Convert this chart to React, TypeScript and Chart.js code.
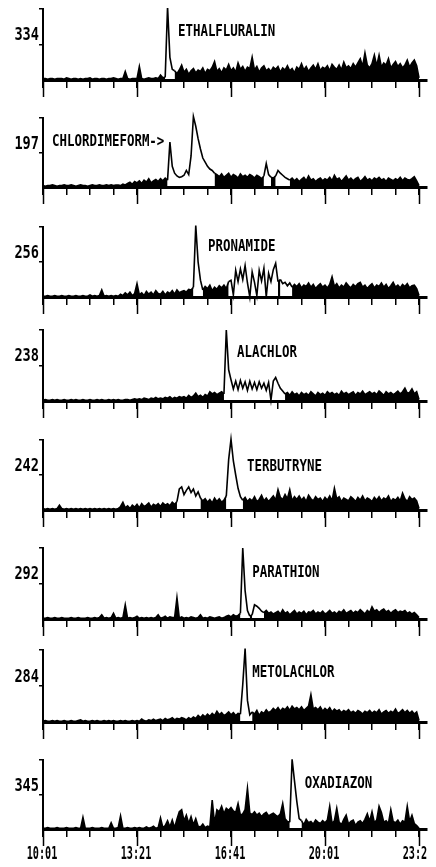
import React, { useEffect, useRef } from 'react';
import { Chart, registerables } from 'chart.js';

Chart.register(...registerables);

// ---- time axis (seconds; 601 s = 10:01) ----
const START = 601;
const STEP = 5; // scan interval, seconds
const X_MAX = 1418;
const X_TICKS = [601, 651, 701, 751, 801, 851, 901, 951, 1001, 1051, 1101, 1151, 1201, 1251, 1301, 1351, 1401];
const X_MAJOR = [601, 801, 1001, 1201, 1401];
const X_LABELS = ['10:01', '13:21', '16:41', '20:01', '23:21'];

// ---- panel labels ----
const MZ = ['334', '197', '256', '238', '242', '292', '284', '345'];
const COMPOUNDS = ['ETHALFLURALIN', 'CHLORDIMEFORM->', 'PRONAMIDE', 'ALACHLOR', 'TERBUTRYNE', 'PARATHION', 'METOLACHLOR', 'OXADIAZON'];
const LABEL_T = [888, 620, 952, 1014, 1035, 1046, 1046, 1158];
const LABEL_Y = [68, 65, 71, 68, 61, 65, 68, 65];

// ---- ion traces (% of full scale), one value per scan ----
const ion334 = [
  2, 2, 1, 2, 2, 1, 2, 2, 2, 1,
  3, 2, 1, 2, 2, 1, 2, 1, 2, 2,
  3, 1, 2, 2, 1, 2, 2, 1, 2, 2,
  3, 2, 1, 2, 2, 12, 2, 1, 2, 2,
  2, 19, 2, 1, 2, 3, 2, 2, 3, 2,
  7, 3, 4, 103, 32, 15, 13, 9, 14, 21,
  11, 15, 8, 13, 16, 10, 14, 12, 17, 9,
  15, 13, 18, 26, 12, 16, 10, 17, 14, 22,
  13, 17, 11, 24, 15, 19, 12, 18, 16, 32,
  14, 19, 11, 17, 20, 13, 16, 12, 18, 15,
  19, 11, 17, 14, 20, 13, 16, 10, 18, 15,
  23, 14, 19, 12, 17, 21, 15, 23, 13, 18,
  16, 20, 13, 22, 18, 15, 21, 14, 25, 17,
  20, 16, 23, 18, 24, 30, 19, 38, 21, 17,
  23, 35, 20, 35, 18, 24, 21, 30, 17, 22,
  26, 19, 23, 17, 21, 28, 18, 24, 28, 20,
  3,
];
const ion197 = [
  2, 1, 2, 2, 3, 2, 1, 2, 2, 3,
  2, 2, 3, 2, 1, 2, 3, 2, 2, 1,
  2, 3, 2, 2, 3, 2, 2, 3, 2, 3,
  2, 3, 3, 2, 4, 3, 5, 7, 4, 8,
  6, 9, 5, 10, 7, 12, 6, 9, 11, 8,
  12, 9, 13, 10, 65, 30, 20, 16, 14, 15,
  17, 24, 18, 45, 102, 88, 70, 55, 42, 36,
  30, 26, 24, 20, 18, 15, 19, 14, 17, 20,
  14, 18, 16, 13, 19, 15, 17, 14, 18, 16,
  13, 17, 15, 12, 16, 34, 18, 14, 13, 16,
  24, 20, 17, 14, 12, 10, 13, 9, 12, 8,
  11, 14, 9, 16, 10, 12, 8, 11, 13, 9,
  12, 10, 14, 9, 17, 11, 13, 8, 12, 16,
  10, 13, 9, 12, 14, 8, 11, 15, 10, 12,
  9, 13, 11, 14, 10, 12, 8, 13, 11, 9,
  12, 10, 14, 9, 13, 11, 10, 12, 15, 9,
  2,
];
const ion256 = [
  1, 1, 2, 1, 1, 2, 1, 1, 2, 1,
  1, 2, 1, 1, 2, 1, 1, 2, 1, 1,
  3, 1, 2, 1, 2, 10, 1, 2, 1, 2,
  1, 2, 1, 4, 2, 6, 3, 7, 2, 5,
  19, 3, 6, 2, 8, 4, 7, 3, 9, 5,
  4, 8, 3, 7, 5, 9, 4, 10, 6, 8,
  9, 7, 11, 10, 14, 102, 50, 24, 10, 15,
  12, 17, 9, 14, 11, 16, 13, 17, 12, 22,
  24, 3, 38, 22, 40, 25, 45, 20, 0, 36,
  21, 2, 38, 23, 41, 0, 34, 22, 39, 48,
  22, 25, 19, 21, 16, 20, 14, 18, 15, 19,
  13, 17, 15, 20, 14, 18, 12, 16, 19, 14,
  17, 13, 18, 29, 15, 19, 13, 17, 14, 20,
  16, 13, 18, 15, 19, 21, 14, 17, 12, 16,
  19, 13, 17, 15, 20, 14, 18, 12, 16, 21,
  14, 17, 13, 18, 15, 19, 13, 16, 17, 12,
  2,
];
const ion238 = [
  1, 2, 1, 1, 2, 1, 2, 1, 1, 2,
  1, 1, 2, 1, 2, 1, 1, 2, 1, 1,
  2, 1, 1, 2, 1, 2, 1, 1, 2, 1,
  2, 1, 2, 1, 1, 2, 2, 1, 2, 3,
  2, 3, 2, 4, 3, 2, 4, 3, 5, 3,
  4, 3, 5, 4, 6, 3, 5, 4, 6, 5,
  6, 4, 8, 5, 7, 11, 6, 8, 5, 9,
  7, 13, 10, 12, 9, 11, 13, 10, 100, 44,
  30, 17, 28, 16, 29, 18, 27, 15, 28, 17,
  26, 16, 27, 18, 25, 15, 26, 1, 28, 33,
  25, 18, 14, 10, 12, 8, 13, 9, 11, 7,
  12, 9, 11, 8, 13, 10, 7, 12, 9, 11,
  8, 13, 10, 12, 9, 11, 8, 14, 10, 12,
  9, 11, 13, 8, 12, 10, 14, 9, 11, 13,
  10, 12, 9, 14, 11, 8, 13, 10, 12, 9,
  11, 14, 10, 13, 18, 11, 12, 17, 10, 13,
  2,
];
const ion242 = [
  2, 1, 2, 1, 2, 1, 2, 7, 2, 1,
  2, 1, 2, 1, 2, 1, 2, 1, 2, 1,
  2, 1, 2, 1, 2, 1, 2, 1, 2, 1,
  2, 1, 2, 5, 11, 3, 6, 2, 7, 4,
  8, 3, 9, 5, 7, 10, 4, 8, 6, 9,
  5, 10, 7, 9, 6, 11, 8, 12, 30, 33,
  22, 28, 33, 25, 30, 20, 26, 17, 13, 16,
  11, 15, 10, 17, 12, 16, 11, 14, 20, 72,
  101, 70, 50, 31, 19, 14, 18, 12, 16, 13,
  19, 12, 15, 21, 13, 17, 12, 16, 20, 14,
  29, 18, 15, 22, 16, 29, 13, 19, 15, 20,
  14, 18, 12, 21, 16, 13, 19, 15, 17, 12,
  18, 14, 20, 13, 31, 16, 19, 12, 17, 15,
  13, 19, 16, 12, 18, 14, 20, 13, 17, 15,
  12, 18, 14, 19, 13, 17, 15, 20, 12, 16,
  14, 18, 13, 24, 16, 12, 19, 15, 17, 13,
  2,
];
const ion292 = [
  1, 1, 2, 1, 1, 2, 1, 1, 2, 1,
  1, 1, 2, 1, 1, 2, 1, 1, 1, 2,
  1, 1, 2, 1, 2, 6, 1, 2, 1, 2,
  8, 1, 2, 1, 2, 20, 1, 2, 1, 2,
  4, 1, 2, 1, 2, 1, 2, 1, 2, 6,
  1, 2, 4, 1, 3, 2, 2, 30, 1, 3,
  1, 2, 1, 3, 2, 1, 2, 6, 1, 2,
  1, 3, 2, 1, 2, 3, 1, 2, 4, 5,
  3, 6, 4, 5, 8, 100, 40, 12, 4, 6,
  20, 18, 15, 11, 9, 12, 8, 10, 7, 9,
  11, 7, 13, 8, 10, 6, 9, 12, 7, 10,
  8, 11, 6, 10, 9, 12, 7, 10, 8, 11,
  7, 9, 12, 8, 10, 7, 11, 9, 13, 8,
  10, 12, 8, 11, 9, 13, 10, 7, 12, 9,
  17, 11, 13, 9, 12, 14, 10, 12, 8, 11,
  13, 9, 11, 10, 12, 8, 10, 7, 9, 6,
  2,
];
const ion284 = [
  1, 2, 1, 1, 2, 1, 2, 1, 1, 2,
  1, 1, 2, 1, 1, 2, 3, 1, 2, 1,
  1, 2, 1, 2, 1, 1, 2, 1, 2, 1,
  2, 1, 1, 2, 1, 2, 1, 1, 2, 1,
  2, 1, 4, 2, 1, 3, 2, 4, 2, 3,
  4, 2, 5, 3, 4, 6, 3, 5, 4, 6,
  5, 3, 6, 4, 7, 5, 9, 6, 10, 7,
  11, 8, 12, 9, 15, 10, 13, 9, 11, 14,
  10, 13, 9, 12, 11, 52, 102, 30, 10, 14,
  11, 16, 9, 14, 12, 17, 13, 15, 19, 16,
  20, 15, 19, 17, 21, 16, 22, 18, 20, 17,
  21, 16, 19, 22, 38, 18, 20, 17, 21, 15,
  19, 16, 20, 14, 18, 15, 17, 13, 16, 14,
  17, 13, 15, 12, 16, 14, 11, 15, 13, 16,
  12, 15, 13, 17, 11, 14, 16, 12, 15, 13,
  18, 12, 14, 17, 13, 16, 12, 15, 11, 14,
  2,
];
const ion345 = [
  1, 1, 2, 1, 1, 1, 2, 1, 1, 1,
  2, 1, 1, 1, 2, 1, 1, 17, 1, 1,
  1, 2, 1, 1, 1, 2, 1, 1, 1, 9,
  1, 1, 2, 19, 1, 1, 2, 1, 1, 2,
  1, 2, 1, 1, 3, 1, 2, 4, 1, 2,
  16, 2, 5, 12, 3, 13, 2, 14, 25, 28,
  12, 20, 8, 18, 6, 15, 4, 3, 7, 2,
  4, 3, 42, 8, 28, 25, 33, 22, 30, 27,
  31, 26, 24, 37, 20, 22, 28, 59, 23, 21,
  25, 20, 23, 18, 22, 24, 19, 21, 23, 20,
  18, 22, 37, 15, 11, 10, 101, 70, 40, 15,
  12, 6, 14, 9, 11, 7, 13, 10, 8, 12,
  9, 13, 33, 8, 12, 30, 10, 6, 14, 20,
  7, 11, 13, 5, 10, 12, 8, 14, 22, 11,
  25, 9, 13, 33, 24, 10, 12, 8, 28, 11,
  9, 13, 7, 12, 10, 33, 11, 20, 8, 5,
  1,
];

const TRACES = [ion334, ion197, ion256, ion238, ion242, ion292, ion284, ion345];

// scan ranges where the trace rides above the baseline (hollow underneath)
const HOLLOW = [
  [[52, 56]],
  [[53, 73], [94, 97], [99, 105]],
  [[64, 68], [79, 100], [101, 106]],
  [[77, 103]],
  [[57, 67], [78, 85]],
  [[84, 88], [89, 94]],
  [[84, 89]],
  [[105, 110]],
];

// ---- layout (page pixels) ----
const PANEL_TOP = [9, 118, 227, 330, 440, 548, 650, 760];
const PANEL_BASE = [80, 187, 297, 401, 510, 619, 722, 829];
const PAD_TOP = 8;
const CANVAS_W = 428;
const Y_AXIS_W = 35;

const MONO = '"DejaVu Sans Mono", "Liberation Mono", monospace';

function drawScaled(ctx: CanvasRenderingContext2D, text: string, x: number, y: number, font: string, sx: number, align: string, baseline: CanvasTextBaseline) {
  ctx.save();
  ctx.font = font;
  ctx.fillStyle = '#000';
  ctx.textBaseline = baseline;
  ctx.textAlign = 'left';
  const w = ctx.measureText(text).width * sx;
  const left = align === 'right' ? x - w : align === 'center' ? x - w / 2 : x;
  ctx.translate(left, y);
  ctx.scale(sx, 1);
  ctx.fillText(text, 0, 0);
  ctx.restore();
}

const panelText = {
  id: 'panelText',
  afterDraw(chart: any, _args: any, opts: any) {
    const { ctx, chartArea } = chart;
    const xs = chart.scales.x;
    const ys = chart.scales.y;
    ctx.save();
    ctx.strokeStyle = '#000';
    ctx.lineWidth = 1.5;
    for (const v of X_MAJOR) {
      const px = Math.round(xs.getPixelForValue(v)) + 0.5;
      ctx.beginPath();
      ctx.moveTo(px, chartArea.bottom);
      ctx.lineTo(px, chartArea.bottom + 17);
      ctx.stroke();
    }
    ctx.restore();
    drawScaled(ctx, opts.mz, chartArea.left - 4, ys.getPixelForValue(62), `bold 17px ${MONO}`, 0.8, 'right', 'middle');
    drawScaled(ctx, opts.name, xs.getPixelForValue(opts.t), ys.getPixelForValue(opts.y), `bold 15px ${MONO}`, 0.83, 'left', 'middle');
    if (opts.last) {
      X_MAJOR.forEach((v, k) => {
        drawScaled(ctx, X_LABELS[k], xs.getPixelForValue(v) - 1, chartArea.bottom + 17, `bold 17px ${MONO}`, 0.6, 'center', 'top');
      });
    }
  },
};

function Panel({ k }: { k: number }) {
  const ref = useRef<HTMLCanvasElement>(null);
  const last = k === TRACES.length - 1;
  const xAxisH = last ? 34 : 20;
  const h = PAD_TOP + (PANEL_BASE[k] - PANEL_TOP[k]) + xAxisH;

  useEffect(() => {
    const values = TRACES[k];
    const hollow = HOLLOW[k];
    const data = values.map((v, i) => ({ x: START + i * STEP, y: v }));
    const isHollow = (i: number) => hollow.some(([a, b]) => i >= a && i < b);
    const chart = new Chart(ref.current as HTMLCanvasElement, {
      type: 'line',
      data: {
        datasets: [
          {
            data,
            borderColor: '#000',
            backgroundColor: '#000',
            borderWidth: 1.6,
            pointRadius: 0,
            tension: 0,
            fill: 'origin',
            clip: false,
            segment: {
              backgroundColor: (c: any) => (isHollow(c.p0DataIndex) ? 'rgba(0,0,0,0)' : '#000'),
            },
          } as any,
        ],
      },
      options: {
        animation: false,
        responsive: false,
        maintainAspectRatio: false,
        devicePixelRatio: 1,
        layout: { padding: { top: PAD_TOP, right: 9, left: 0, bottom: 0 } },
        plugins: {
          legend: { display: false },
          tooltip: { enabled: false },
          panelText: { mz: MZ[k], name: COMPOUNDS[k], t: LABEL_T[k], y: LABEL_Y[k], last },
        } as any,
        scales: {
          x: {
            type: 'linear',
            min: START,
            max: X_MAX,
            afterBuildTicks: (s: any) => {
              s.ticks = X_TICKS.map((v) => ({ value: v }));
            },
            afterFit: (s: any) => {
              s.height = xAxisH;
            },
            ticks: { display: false },
            grid: { drawOnChartArea: false, drawTicks: true, tickLength: 8, color: '#000', lineWidth: 1.5 },
            border: { display: true, color: '#000', width: 3 },
          },
          y: {
            min: 0,
            max: 100,
            afterBuildTicks: (s: any) => {
              s.ticks = [{ value: 50 }, { value: 100 }];
            },
            afterFit: (s: any) => {
              s.width = Y_AXIS_W;
            },
            ticks: { display: false },
            grid: { drawOnChartArea: false, drawTicks: true, tickLength: 4, color: '#000', lineWidth: 1.5 },
            border: { display: true, color: '#000', width: 2 },
          },
        },
      } as any,
      plugins: [panelText],
    });
    return () => chart.destroy();
  }, [k]);

  return (
    <div style={{ position: 'absolute', left: 0, top: PANEL_TOP[k] - 8 - PAD_TOP, width: CANVAS_W, height: h }}>
      <canvas ref={ref} width={CANVAS_W} height={h} style={{ display: 'block', width: CANVAS_W, height: h }} />
    </div>
  );
}

export default function App() {
  return (
    <div style={{ position: 'relative', width: 420, height: 851, background: '#fff' }}>
      {TRACES.map((_, k) => (
        <Panel key={k} k={k} />
      ))}
    </div>
  );
}
